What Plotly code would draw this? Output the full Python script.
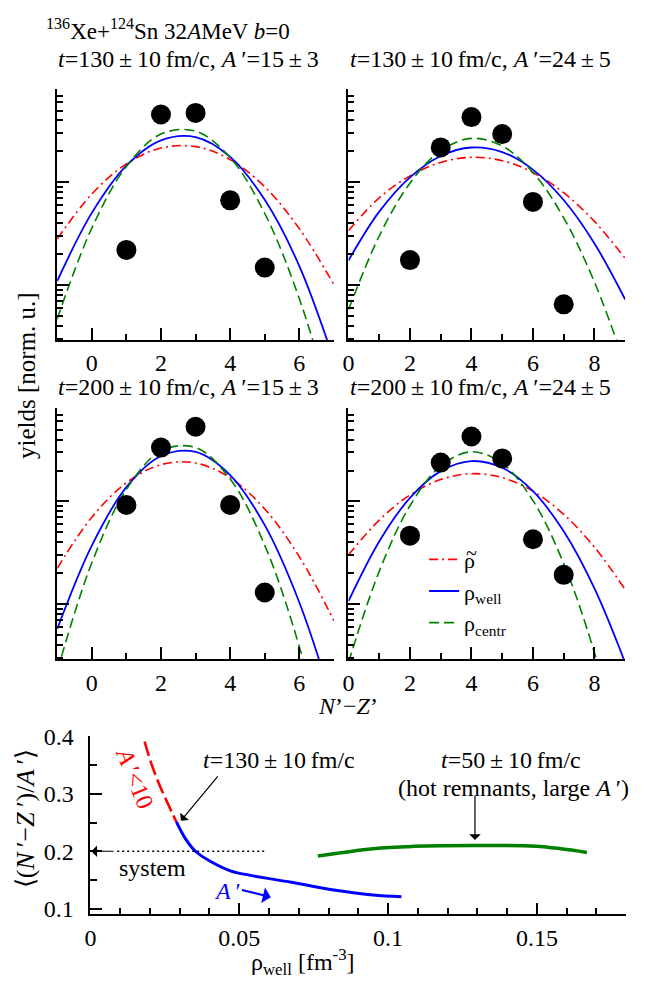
import numpy as np
import plotly.graph_objects as go

# ---------------- data (log10 of yields, normalised units) ----------------
NZ_LEFT = [-1, 0, 1, 2, 3, 4, 5, 6, 7]
NZ_RIGHT = [0, 1, 2, 3, 4, 5, 6, 7, 8, 9]

# t=130 fm/c, A'=15+-3
tl_dots_x = [1, 2, 3, 4, 5]
tl_dots = [-0.657, 0.660, 0.676, -0.175, -0.829]
tl_rho = [-0.55, -0.114, 0.18, 0.334, 0.348, 0.222, -0.044, -0.45, -0.996]
tl_well = [-0.96, -0.297, 0.163, 0.409, 0.44, 0.248, -0.17, -0.814, -1.73]
tl_centr = [-1.33, -0.446, 0.155, 0.47, 0.498, 0.241, -0.303, -1.132, -2.25]

# t=130 fm/c, A'=24+-5
tr_dots_x = [2, 3, 4, 5, 6, 7]
tr_dots = [-0.756, 0.34, 0.635, 0.47, -0.19, -1.187]
tr_rho = [-0.47, -0.15, 0.063, 0.194, 0.244, 0.211, 0.096, -0.101, -0.38, -0.74]
tr_well = [-0.76, -0.285, 0.049, 0.257, 0.339, 0.295, 0.124, -0.172, -0.594, -1.14]
tr_centr = [-1.24, -0.522, -0.008, 0.309, 0.428, 0.354, 0.097, -0.345, -0.97, -1.78]

# t=200 fm/c, A'=15+-3
bl_dots_x = [1, 2, 3, 4, 5]
bl_dots = [-0.035, 0.524, 0.727, -0.035, -0.886]
bl_rho = [-0.65, -0.154, 0.182, 0.358, 0.374, 0.23, -0.074, -0.538, -1.16]
bl_well = [-1.24, -0.429, 0.139, 0.442, 0.482, 0.257, -0.231, -0.983, -2.0]
bl_centr = [-1.651, -0.597, 0.117, 0.491, 0.525, 0.219, -0.427, -1.413, -2.74]

# t=200 fm/c, A'=24+-5
br_dots_x = [2, 3, 4, 5, 6, 7]
br_dots = [-0.333, 0.378, 0.632, 0.419, -0.368, -0.714]
br_rho = [-0.52, -0.182, 0.063, 0.213, 0.27, 0.232, 0.1, -0.125, -0.445, -0.858]
br_well = [-0.97, -0.389, 0.035, 0.295, 0.393, 0.328, 0.1, -0.291, -0.846, -1.57]
br_centr = [-1.567, -0.68, -0.042, 0.345, 0.483, 0.37, 0.008, -0.605, -1.47, -2.58]

# bottom panel: <(N'-Z')/A'> vs rho_well
small_rho = [0.0182, 0.0205, 0.023, 0.026, 0.0289]
small_asym = [0.391, 0.352, 0.318, 0.283, 0.251]
frag_rho = [0.0289, 0.0319, 0.0353, 0.0401, 0.047, 0.0538, 0.0675, 0.0812, 0.0949, 0.1045]
frag_asym = [0.251, 0.222, 0.200, 0.183, 0.166, 0.158, 0.146, 0.133, 0.124, 0.121]
hot_rho = [0.0764, 0.0949, 0.1086, 0.129, 0.1497, 0.1668]
hot_asym = [0.1916, 0.2045, 0.2085, 0.210, 0.2085, 0.198]
system_rho = [0.009, 0.059]
system_asym = [0.2, 0.2]

TS = "\u2009"  # thin space
panel_titles = [
    f"<i>t</i>=130{TS}±{TS}10{TS}fm/c, <i>A</i>{TS}′=15{TS}±{TS}3",
    f"<i>t</i>=130{TS}±{TS}10{TS}fm/c, <i>A</i>{TS}′=24{TS}±{TS}5",
    f"<i>t</i>=200{TS}±{TS}10{TS}fm/c, <i>A</i>{TS}′=15{TS}±{TS}3",
    f"<i>t</i>=200{TS}±{TS}10{TS}fm/c, <i>A</i>{TS}′=24{TS}±{TS}5",
]

# ---------------- styling ----------------
FONT = "Liberation Serif"
RED, BLUE, GREEN = "#ff0000", "#0000ff", "#008000"
W, H = 645, 990


def px_x(p):
    return p / W


def px_y(p):
    return 1 - p / H


fig = go.Figure()

panels = [
    (NZ_LEFT, tl_dots_x, tl_dots, tl_rho, tl_well, tl_centr, "x", "y"),
    (NZ_RIGHT, tr_dots_x, tr_dots, tr_rho, tr_well, tr_centr, "x2", "y2"),
    (NZ_LEFT, bl_dots_x, bl_dots, bl_rho, bl_well, bl_centr, "x3", "y3"),
    (NZ_RIGHT, br_dots_x, br_dots, br_rho, br_well, br_centr, "x4", "y4"),
]

for i, (xs, dx, dy, r, w, c, xa, ya) in enumerate(panels):
    show = i == 3
    fig.add_trace(go.Scatter(x=xs, y=np.power(10.0, r), mode="lines", xaxis=xa, yaxis=ya,
                             line=dict(color=RED, width=1.6, dash="9px,4px,2px,4px", shape="spline"),
                             name="ρ", showlegend=show))
    fig.add_trace(go.Scatter(x=xs, y=np.power(10.0, w), mode="lines", xaxis=xa, yaxis=ya,
                             line=dict(color=BLUE, width=1.8, shape="spline"),
                             name="ρ<sub>well</sub>", showlegend=show))
    fig.add_trace(go.Scatter(x=xs, y=np.power(10.0, c), mode="lines", xaxis=xa, yaxis=ya,
                             line=dict(color=GREEN, width=1.6, dash="10px,5px", shape="spline"),
                             name="ρ<sub>centr</sub>", showlegend=show))
    fig.add_trace(go.Scatter(x=dx, y=np.power(10.0, dy), mode="markers", xaxis=xa, yaxis=ya,
                             marker=dict(color="black", size=20), showlegend=False,
                             cliponaxis=False))

# bottom panel
fig.add_trace(go.Scatter(x=small_rho, y=small_asym, mode="lines", xaxis="x5", yaxis="y5",
                         line=dict(color=RED, width=2.6, dash="15px,5px", shape="spline"),
                         showlegend=False))
fig.add_trace(go.Scatter(x=frag_rho, y=frag_asym, mode="lines", xaxis="x5", yaxis="y5",
                         line=dict(color=BLUE, width=3, shape="spline"), showlegend=False))
fig.add_trace(go.Scatter(x=hot_rho, y=hot_asym, mode="lines", xaxis="x5", yaxis="y5",
                         line=dict(color=GREEN, width=3.5, shape="spline"), showlegend=False))
fig.add_trace(go.Scatter(x=system_rho, y=system_asym, mode="lines", xaxis="x5", yaxis="y5",
                         line=dict(color="black", width=1.3, dash="2px,3px"), showlegend=False))

# axes
tickfont = dict(family=FONT, size=24, color="black")
log_minor = [k * 10.0 ** d for d in (-2, -1, 0) for k in range(2, 10)]

xdom_l = [px_x(51.7), px_x(331)]
xdom_r = [px_x(345.7), px_x(625)]
ydom_t = [px_y(334), px_y(78)]
ydom_b = [px_y(660), px_y(404)]

common_x = dict(showline=True, linecolor="black", linewidth=1.5, ticks="inside", ticklen=12,
                tickwidth=1.5, tickcolor="black", dtick=2, tick0=0, showgrid=False, zeroline=False,
                tickfont=tickfont, ticklabelstandoff=1,
                minor=dict(ticks="inside", ticklen=6, dtick=1, tick0=0, tickwidth=1.5,
                           tickcolor="black", showgrid=False))
common_y = dict(type="log", range=[-1.533, 0.905], showline=True, linecolor="black", linewidth=1.5,
                ticks="inside", ticklen=12, tickwidth=1.5, tickcolor="black",
                tickmode="array", tickvals=[0.1, 1], showticklabels=False, showgrid=False,
                zeroline=False,
                minor=dict(ticks="inside", ticklen=6, tickmode="array", tickvals=log_minor,
                           tickwidth=1.5, tickcolor="black", showgrid=False))

layout = dict(
    width=W, height=H, margin=dict(l=0, r=0, t=0, b=0),
    paper_bgcolor="white", plot_bgcolor="white",
    xaxis=dict(common_x, domain=xdom_l, range=[-1, 7], anchor="y"),
    yaxis=dict(common_y, domain=ydom_t, anchor="x"),
    xaxis2=dict(common_x, domain=xdom_r, range=[0, 9], anchor="y2"),
    yaxis2=dict(common_y, domain=ydom_t, anchor="x2"),
    xaxis3=dict(common_x, domain=xdom_l, range=[-1, 7], anchor="y3"),
    yaxis3=dict(common_y, domain=ydom_b, anchor="x3"),
    xaxis4=dict(common_x, domain=xdom_r, range=[0, 9], anchor="y4"),
    yaxis4=dict(common_y, domain=ydom_b, anchor="x4"),
    xaxis5=dict(domain=[px_x(85.2), px_x(626)], range=[0, 0.18], anchor="y5", showline=True,
                linecolor="black", linewidth=1.5, ticks="inside", ticklen=12, tickwidth=1.5,
                tickcolor="black", dtick=0.05, tick0=0, showgrid=False, zeroline=False,
                tickfont=tickfont, ticklabelstandoff=1,
                minor=dict(ticks="inside", ticklen=7, dtick=0.01, tick0=0, tickwidth=1.5,
                           tickcolor="black", showgrid=False)),
    yaxis5=dict(domain=[px_y(921), px_y(739)], range=[0.09, 0.4], anchor="x5", showline=True,
                linecolor="black", linewidth=1.5, ticks="inside", ticklen=12, tickwidth=1.5,
                tickcolor="black", dtick=0.1, tick0=0, showgrid=False, zeroline=False,
                tickfont=tickfont, ticklabelstandoff=10,
                minor=dict(ticks="inside", ticklen=7, dtick=0.05, tick0=0, tickwidth=1.5,
                           tickcolor="black", showgrid=False)),
    legend=dict(x=px_x(422), y=px_y(537), xanchor="left", yanchor="top",
                font=dict(family=FONT, size=22, color="black"), bgcolor="rgba(0,0,0,0)",
                tracegroupgap=0, itemwidth=30),
    font=dict(family=FONT, color="black"),
)
fig.update_layout(**layout)

ann = []


def text(x, y, s, size=24, xanchor="center", textangle=0, color="black", xref="paper", yref="paper"):
    ann.append(dict(x=x, y=y, xref=xref, yref=yref, text=s, showarrow=False, xanchor=xanchor,
                    yanchor="middle", textangle=textangle,
                    font=dict(family=FONT, size=size, color=color)))


text(px_x(38), px_y(17), "<sup>136</sup>Xe+<sup>124</sup>Sn 32<i>A</i>MeV <i>b</i>=0", size=23,
     xanchor="left")
text(px_x(50), px_y(47), panel_titles[0], size=24, xanchor="left")
text(px_x(345), px_y(47), panel_titles[1], size=24, xanchor="left")
text(px_x(50), px_y(382), panel_titles[2], size=24, xanchor="left")
text(px_x(345), px_y(382), panel_titles[3], size=24, xanchor="left")
text(px_x(20), px_y(370), "yields [norm. u.]", textangle=-90, size=25)
text(px_x(345), px_y(708), "<i>N</i>’−<i>Z</i>’", size=24)
text(px_x(20), px_y(823), f"⟨(<i>N</i>{TS}′−<i>Z</i>{TS}′)/<i>A</i>{TS}′⟩", textangle=-90, size=26)
text(px_x(300), px_y(970), "ρ<sub>well</sub> [fm<sup>-3</sup>]", size=24)
# tilde over the legend's rho
text(px_x(470), px_y(552), "~", size=20)

# bottom panel annotations (data coordinates)
text(0.0634, 0.3585, f"<i>t</i>=130{TS}±{TS}10{TS}fm/c", xref="x5", yref="y5")
text(0.1414, 0.359, f"<i>t</i>=50{TS}±{TS}10{TS}fm/c", xref="x5", yref="y5")
text(0.1420, 0.3094, f"(hot remnants, large <i>A</i>{TS}′)", xref="x5", yref="y5")
text(0.0209, 0.171, "system", xref="x5", yref="y5")
text(0.0148, 0.327, f"<i>A</i>{TS}′<10", xref="x5", yref="y5", textangle=68, color=RED)
text(0.0462, 0.1305, f"<i>A</i>{TS}′", xref="x5", yref="y5", color=BLUE)


def arrow(x0, y0, x1, y1, color="black", width=1.2, size=1.6):
    ann.append(dict(x=x1, y=y1, ax=x0, ay=y0, xref="x5", yref="y5", axref="x5", ayref="y5",
                    text="", showarrow=True, arrowhead=1, arrowsize=size, arrowwidth=width,
                    arrowcolor=color))


arrow(0.0432, 0.333, 0.0304, 0.253)
arrow(0.1292, 0.2986, 0.1292, 0.2197)
arrow(0.0083, 0.2, 0.0003, 0.2)
arrow(0.0504, 0.1333, 0.0606, 0.1201, color=BLUE, width=2.2, size=1.2)

fig.update_layout(annotations=ann)
fig.write_html("out.html")
